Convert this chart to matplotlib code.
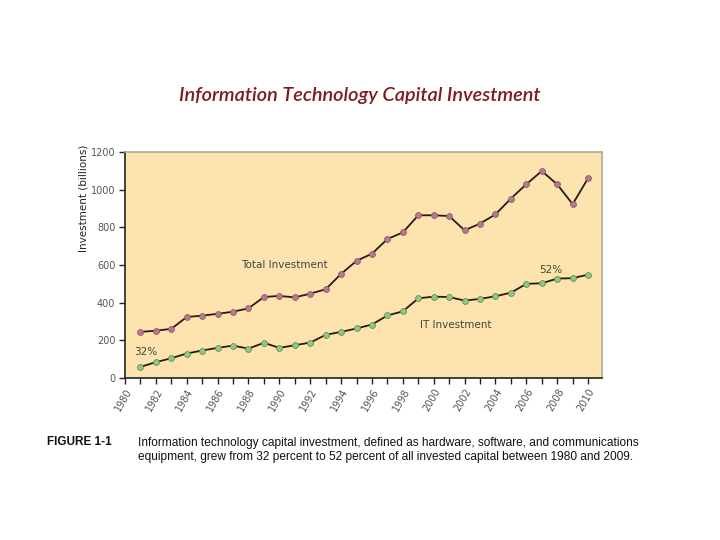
import numpy as np
import matplotlib.pyplot as plt

years = list(range(1981, 2011))
total_investment = [245, 251, 261, 324, 331, 341, 352, 370, 430, 436,
                    428, 448, 471, 553, 622, 660, 738, 773, 864, 864,
                    860, 784, 820, 869, 953, 1029, 1099, 1028, 923, 1061]
it_investment = [59, 84, 105, 130, 146, 160, 172, 156, 187, 160,
                 174, 188, 229, 245, 263, 284, 332, 354, 423, 432,
                 430, 411, 420, 434, 453, 500, 503, 528, 530, 549]
year_labels = list(range(1980, 2011, 2))
y_ticks = [0, 200, 400, 600, 800, 1000, 1200]

TITLE = "Information Technology Capital Investment"
CAPTION = ("Information technology capital investment, defined as hardware, software, and communications\n"
           "equipment, grew from 32 percent to 52 percent of all invested capital between 1980 and 2009.")


def plot_it_investment():
    fig = plt.figure(figsize=(7.2, 5.4), dpi=100)
    ax = fig.add_axes([0.1736, 0.3, 0.6625, 0.4185])
    ax.set_facecolor("#fde3ae")

    ax.plot(years, total_investment, color="#2a1a14", lw=1.3, zorder=2)
    ax.plot(years, total_investment, "o", ms=4.2, mfc="#b9788e", mec="#8a5a6a",
            mew=0.6, zorder=3)
    ax.plot(years, it_investment, color="#2a1a14", lw=1.3, zorder=2)
    ax.plot(years, it_investment, "o", ms=4.2, mfc="#91c97e", mec="#5f8f55",
            mew=0.6, zorder=3)

    ax.set_xlim(1980, 2010.9)
    ax.set_ylim(0, 1200)
    ax.set_xticks(year_labels)
    ax.set_xticks(range(1980, 2011), minor=True)
    ax.set_xticklabels([str(y) for y in year_labels], rotation=60,
                       ha="right", rotation_mode="anchor", fontsize=7,
                       color="#555555")
    ax.set_yticks(y_ticks)
    ax.set_yticklabels([str(v) for v in y_ticks], fontsize=7, color="#555555")
    ax.tick_params(axis="both", which="both", direction="out", length=4,
                   width=1, color="#222222")
    ax.tick_params(axis="x", which="major", pad=2)
    ax.tick_params(axis="y", pad=3)

    for side in ["top", "right"]:
        ax.spines[side].set_color("#b0a89a")
        ax.spines[side].set_linewidth(1.2)
    for side in ["left", "bottom"]:
        ax.spines[side].set_color("#222222")
        ax.spines[side].set_linewidth(1.2)

    ax.text(1987.5, 600, "Total Investment", fontsize=7.5, color="#444444",
            ha="left", va="center")
    ax.text(1999.1, 280, "IT Investment", fontsize=7.5, color="#444444",
            ha="left", va="center")
    ax.text(1980.6, 140, "32%", fontsize=7.5, color="#444444",
            ha="left", va="center")
    ax.text(2007.6, 575, "52%", fontsize=7.5, color="#444444",
            ha="center", va="center")

    fig.text(84 / 720, 1 - 198 / 540, "Investment (billions)", rotation=90,
             fontsize=7.5, color="#222222", ha="center", va="center")

    fig.text(0.5, 1 - 95 / 540, TITLE, fontsize=14.3, style="italic",
             fontweight="semibold", family="Lato", color="#7f1a1f",
             ha="center", va="center")

    fig.text(47 / 720, 1 - 442 / 540, "FIGURE 1-1", fontsize=8.5,
             fontweight="bold", family="Liberation Sans", color="#111111",
             ha="left", va="center")
    fig.text(138 / 720, 1 - 450 / 540, CAPTION, fontsize=8.6,
             family="Liberation Sans", color="#111111", ha="left",
             va="center", linespacing=1.25)

    fig.savefig("out.png", dpi=100)


def main():
    plot_it_investment()


if __name__ == '__main__':
    main()
